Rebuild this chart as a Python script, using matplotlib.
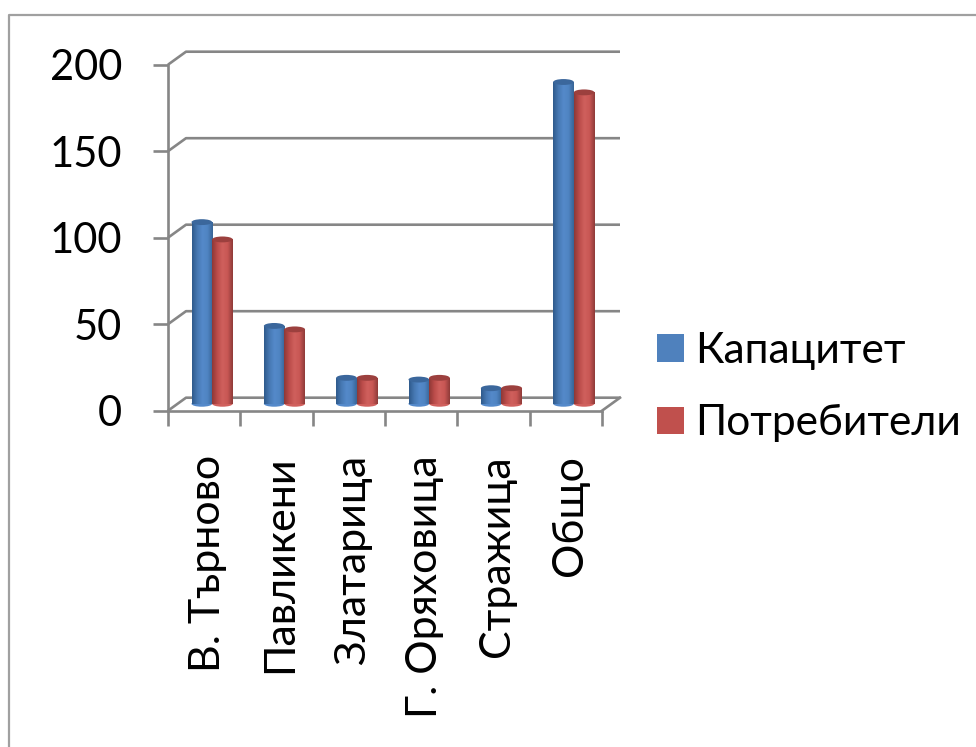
import numpy as np
import matplotlib
matplotlib.use("Agg")
import matplotlib.pyplot as plt
from matplotlib.colors import LinearSegmentedColormap
from matplotlib.lines import Line2D
from matplotlib.patches import Ellipse, Patch
from matplotlib.transforms import ScaledTranslation

categories = ["В. Търново", "Павликени", "Златарица", "Г. Оряховица", "Стражица", "Общо"]
series_names = ["Капацитет", "Потребители"]
capacity = [105, 45, 15, 14, 9, 186]
consumers = [95, 43, 15, 15, 9, 180]
y_ticks = [0, 50, 100, 150, 200]

W, H = 976, 747
plt.rcParams["font.family"] = ["Lato", "Open Sans", "DejaVu Sans"]
fig = plt.figure(figsize=(W / 100, H / 100), dpi=100)
L, R, T, B = 168, 602, 64.7, 410.7
ax = fig.add_axes([L / W, 1 - B / H, (R - L) / W, (B - T) / H])
ax.set_xlim(0, 6)
ax.set_ylim(0, 200)
ax.patch.set_alpha(0)

GRID = "#868686"
LW = 1.9
dx, dy = 18 / ((R - L) / 6), 13 / ((B - T) / 200)

for v in y_ticks:
    ax.plot([0, dx, 6 + dx], [v, v + dy, v + dy], color=GRID, lw=LW, clip_on=False, zorder=1,
            solid_capstyle="butt")
ax.plot([6, 6 + dx], [0, dy], color=GRID, lw=LW, clip_on=False, zorder=1)

for s in ["top", "right"]:
    ax.spines[s].set_visible(False)
for s in ["left", "bottom"]:
    ax.spines[s].set_color(GRID)
    ax.spines[s].set_linewidth(LW)
    ax.spines[s].set_zorder(2)

ax.set_yticks(y_ticks)
ax.set_yticklabels([str(v) for v in y_ticks], fontsize=30)
ax.set_xticks(range(7))
ax.set_xticklabels([])
ax.set_xticks(np.arange(6) + 0.5, minor=True)
ax.set_xticklabels(categories, minor=True, rotation=90, fontsize=31, ha="center", va="top")
ax.tick_params(axis="y", which="major", length=11, width=LW, color=GRID, pad=22)
ax.tick_params(axis="x", which="major", length=11, width=LW, color=GRID)
ax.tick_params(axis="x", which="minor", length=0, pad=32)
for lab in ax.get_xticklabels(minor=True):
    lab.set_transform(lab.get_transform() + ScaledTranslation(4 / 100, 0, fig.dpi_scale_trans))

blue = LinearSegmentedColormap.from_list("b", ["#2f5a8c", "#4678b2", "#5489ca", "#4f84c2", "#386596"])
red = LinearSegmentedColormap.from_list("r", ["#8e3836", "#bb4c4a", "#d0605d", "#c85754", "#8f3b39"])
grad = np.linspace(0, 1, 64)[None, :]

bw = 0.285
off = 0.11
base = 4.0
eh = 3.4


def cylinder(x0, v, cmap, top, z):
    x1 = x0 + bw
    xc = (x0 + x1) / 2
    foot = Ellipse((xc, base), bw, eh, facecolor=cmap(0.5), edgecolor="none", zorder=z, clip_on=False)
    ax.add_patch(foot)
    ax.imshow(grad, cmap=cmap, extent=[x0, x1, base, base + v], aspect="auto",
              zorder=z + 0.1, clip_on=False, interpolation="bilinear")
    cap = Ellipse((xc, base + v), bw, eh, facecolor=top, edgecolor="none", zorder=z + 0.2, clip_on=False)
    ax.add_patch(cap)


for i in range(len(categories)):
    cylinder(i + 0.5 + off - bw, capacity[i], blue, "#3b679c", 3 + i)
    cylinder(i + 0.5 + off, consumers[i], red, "#9c403e", 3.5 + i)
ax.set_xlim(0, 6)
ax.set_ylim(0, 200)

handles = [Patch(facecolor="#4F81BD"), Patch(facecolor="#C0504D")]
fig.legend(handles, series_names, loc="center left", bbox_to_anchor=(657 / W, 1 - 387 / H),
           frameon=False, fontsize=30.6, handlelength=0.635, handleheight=0.635,
           handletextpad=0.27, labelspacing=0.82, borderpad=0, borderaxespad=0)

fig.add_artist(Line2D([9 / W, 9 / W, 1], [0, 1 - 14.5 / H, 1 - 14.5 / H], color="#a0a0a0", lw=1.6,
                      transform=fig.transFigure))
fig.savefig("out.png", dpi=100)
